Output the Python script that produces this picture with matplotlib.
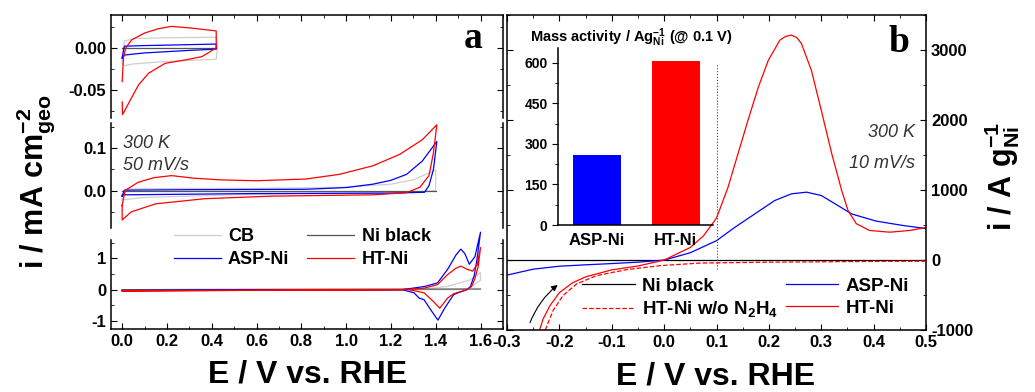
import matplotlib.pyplot as plt
from matplotlib.ticker import MultipleLocator, FormatStrFormatter

# ---- panel a : CVs, three stacked potential windows ----
# top window (0 - 0.42 V), mA cm-2
cb_top_E = [0.0, 0.01, 0.05, 0.20, 0.42, 0.425, 0.42, 0.20, 0.05, 0.01, 0.0, 0.0]
cb_top_i = [-0.010, 0.008, 0.011, 0.012, 0.0125, 0.0, -0.0135, -0.016, -0.019, -0.021, -0.019, -0.010]
ni_top_E = [0.0, 0.42]
ni_top_i = [0.0, 0.0]
asp_top_E = [0.0, 0.01, 0.10, 0.25, 0.42, 0.42, 0.30, 0.10, 0.01, 0.0, 0.0]
asp_top_i = [-0.012, 0.002, 0.0027, 0.0035, 0.0045, -0.0015, -0.003, -0.006, -0.0085, -0.012, -0.012]
ht_top_E = [0.0, 0.006, 0.016, 0.043, 0.10, 0.16, 0.22, 0.31, 0.42, 0.42, 0.357, 0.282,
            0.192, 0.118, 0.073, 0.036, 0.002, 0.0]
ht_top_i = [-0.040, -0.012, 0.0, 0.0095, 0.0175, 0.0225, 0.0254, 0.0234, 0.020, 0.0, -0.0103,
            -0.0143, -0.0183, -0.030, -0.044, -0.062, -0.079, -0.064]

# middle window (0 - 1.4 V)
cb_mid_E = [0.0, 0.02, 0.30, 0.60, 1.00, 1.20, 1.30, 1.40, 1.40, 1.30, 1.00, 0.50, 0.10, 0.0, 0.0]
cb_mid_i = [-0.020, 0.004, 0.005, 0.005, 0.008, 0.015, 0.025, 0.048, 0.0, -0.004, -0.006,
            -0.010, -0.016, -0.022, -0.020]
ni_mid_E = [0.0, 1.40]
ni_mid_i = [0.0, 0.0]
asp_mid_E = [0.0, 0.01, 0.30, 0.82, 1.00, 1.12, 1.20, 1.27, 1.34, 1.405, 1.39, 1.37, 1.35,
             1.20, 0.60, 0.0, 0.0]
asp_mid_i = [-0.013, 0.001, 0.002, 0.003, 0.007, 0.015, 0.024, 0.038, 0.069, 0.115, 0.050,
             0.0115, -0.004, -0.006, -0.007, -0.010, -0.013]
ht_mid_E = [0.0, 0.013, 0.07, 0.14, 0.22, 0.32, 0.44, 0.60, 0.82, 0.97, 1.12, 1.24, 1.34, 1.405,
            1.39, 1.37, 1.33, 1.27, 1.12, 0.67, 0.37, 0.15, 0.04, 0.0, 0.0]
ht_mid_i = [-0.035, 0.0, 0.019, 0.030, 0.035, 0.029, 0.025, 0.023, 0.027, 0.038, 0.058, 0.085,
            0.119, 0.154, 0.089, 0.035, 0.008, -0.005, -0.010, -0.013, -0.019, -0.031, -0.050,
            -0.069, -0.035]

# bottom window (0 - 1.6 V)
cb_bot_E = [0.0, 1.35, 1.45, 1.50, 1.55, 1.60, 1.60, 1.55, 1.50, 0.0]
cb_bot_i = [0.0, 0.02, 0.10, 0.20, 0.30, 0.54, 0.30, 0.05, 0.0, -0.02]
ni_bot_E = [0.0, 1.60]
ni_bot_i = [0.0, 0.02]
asp_bot_E = [0.0, 1.25, 1.30, 1.35, 1.408, 1.453, 1.49, 1.512, 1.53, 1.55, 1.575, 1.60,
             1.585, 1.572, 1.555, 1.54, 1.50, 1.48, 1.44, 1.41, 1.378, 1.348, 1.326, 1.303, 1.25, 0.0]
asp_bot_i = [-0.03, 0.0, 0.05, 0.10, 0.215, 0.645, 1.10, 1.29, 1.15, 0.81, 1.05, 1.83,
             1.0, 0.45, 0.10, 0.0, -0.10, -0.16, -0.59, -0.97, -0.645, -0.32, -0.27, -0.10, 0.0, -0.03]
ht_bot_E = [0.0, 1.25, 1.35, 1.408, 1.453, 1.49, 1.512, 1.54, 1.565, 1.585, 1.60,
            1.59, 1.575, 1.56, 1.54, 1.48, 1.453, 1.418, 1.39, 1.348, 1.28, 0.0]
ht_bot_i = [-0.04, 0.0, 0.05, 0.16, 0.48, 0.68, 0.75, 0.65, 0.59, 0.80, 1.34,
            0.75, 0.35, 0.10, 0.0, -0.13, -0.27, -0.59, -0.38, -0.10, 0.0, -0.04]

# ---- panel b : LSV, A g-1 (Ni) ----
nib_E = [-0.3, 0.5]
nib_i = [0, 0]
aspb_E = [-0.30, -0.25, -0.20, -0.15, -0.10, -0.05, 0.0, 0.05, 0.10, 0.135, 0.173, 0.211, 0.243,
          0.272, 0.300, 0.332, 0.358, 0.405, 0.456, 0.50]
aspb_i = [-215, -130, -88, -68, -50, -30, 0, 105, 277, 468, 659, 850, 946,
          970, 922, 778, 659, 556, 494, 450]
htb_E = [-0.238, -0.231, -0.218, -0.20, -0.175, -0.15, -0.10, -0.05, 0.0, 0.05, 0.075, 0.10,
         0.122, 0.141, 0.160, 0.180, 0.199, 0.221, 0.232, 0.243, 0.253, 0.262, 0.281, 0.300,
         0.320, 0.339, 0.351, 0.367, 0.392, 0.431, 0.469, 0.50]
htb_i = [-1000, -840, -650, -465, -325, -240, -140, -85, 0, 180, 345, 600,
         1041, 1519, 1996, 2474, 2856, 3142, 3195, 3214, 3180, 3095, 2713, 2140,
         1519, 993, 709, 519, 423, 398, 423, 465]
htn_E = [-0.227, -0.212, -0.193, -0.167, -0.129, -0.072, -0.008, 0.068, 0.2, 0.35, 0.5]
htn_i = [-1000, -719, -506, -340, -222, -137, -80, -43, -30, -22, -15]

# inset: mass activity at 0.1 V
cats = ['ASP-Ni', 'HT-Ni']
mass_act = [258, 607]
E_MA = 0.1

plt.rcParams['font.family'] = ['Liberation Sans', 'DejaVu Sans']
plt.rcParams['font.weight'] = 'bold'
plt.rcParams['mathtext.fontset'] = 'custom'
plt.rcParams['mathtext.rm'] = 'Liberation Sans:bold'
plt.rcParams['mathtext.bf'] = 'Liberation Sans:bold'
plt.rcParams['mathtext.it'] = 'Liberation Sans:italic:bold'
plt.rcParams['mathtext.default'] = 'bf'
plt.rcParams['axes.unicode_minus'] = False
plt.rcParams['axes.linewidth'] = 1.1
plt.rcParams['xtick.direction'] = 'in'
plt.rcParams['ytick.direction'] = 'in'
plt.rcParams['xtick.major.size'] = 4
plt.rcParams['ytick.major.size'] = 4
plt.rcParams['xtick.minor.size'] = 2.3
plt.rcParams['ytick.minor.size'] = 2.3
plt.rcParams['xtick.labelsize'] = 12
plt.rcParams['ytick.labelsize'] = 12
plt.rcParams['lines.solid_joinstyle'] = 'round'

c_cb, c_ni, c_asp, c_ht = '#cfcfcf', '#555555', '#0000ff', '#ff0000'
lw = 0.9

fig = plt.figure(figsize=(10.35, 3.92), dpi=100)

ax_top = fig.add_axes([0.1072, 0.699, 0.3787, 0.263])
ax_mid = fig.add_axes([0.1072, 0.418, 0.3787, 0.268])
ax_bot = fig.add_axes([0.1072, 0.161, 0.3787, 0.227])

ax_top.plot(cb_top_E, cb_top_i, color=c_cb, lw=lw)
ax_top.plot(ni_top_E, ni_top_i, color=c_ni, lw=lw)
ax_top.plot(asp_top_E, asp_top_i, color=c_asp, lw=lw)
ax_top.plot(ht_top_E, ht_top_i, color=c_ht, lw=lw)

ax_mid.plot(cb_mid_E, cb_mid_i, color=c_cb, lw=lw)
ax_mid.plot(ni_mid_E, ni_mid_i, color=c_ni, lw=lw)
ax_mid.plot(asp_mid_E, asp_mid_i, color=c_asp, lw=lw)
ax_mid.plot(ht_mid_E, ht_mid_i, color=c_ht, lw=lw)

l_cb, = ax_bot.plot(cb_bot_E, cb_bot_i, color=c_cb, lw=lw, label='CB')
l_ni, = ax_bot.plot(ni_bot_E, ni_bot_i, color=c_ni, lw=lw, label='Ni black')
l_asp, = ax_bot.plot(asp_bot_E, asp_bot_i, color=c_asp, lw=lw, label='ASP-Ni', clip_on=False)
l_ht, = ax_bot.plot(ht_bot_E, ht_bot_i, color=c_ht, lw=lw, label='HT-Ni', clip_on=False)

ax_top.set_ylim(-0.083, 0.039)
ax_mid.set_ylim(-0.088, 0.158)
ax_bot.set_ylim(-1.25, 1.585)
for ax in (ax_top, ax_mid, ax_bot):
    ax.set_xlim(-0.05, 1.70)
    ax.xaxis.set_major_locator(MultipleLocator(0.2))
    ax.xaxis.set_minor_locator(MultipleLocator(0.1))
    ax.tick_params(axis='y', which='both', left=True, right=True)
ax_top.yaxis.set_major_locator(MultipleLocator(0.05))
ax_top.yaxis.set_minor_locator(MultipleLocator(0.025))
ax_top.yaxis.set_major_formatter(FormatStrFormatter('%.2f'))
ax_mid.yaxis.set_major_locator(MultipleLocator(0.1))
ax_mid.yaxis.set_minor_locator(MultipleLocator(0.05))
ax_mid.yaxis.set_major_formatter(FormatStrFormatter('%.1f'))
ax_bot.yaxis.set_major_locator(MultipleLocator(1))
ax_bot.yaxis.set_minor_locator(MultipleLocator(0.5))
ax_bot.yaxis.set_major_formatter(FormatStrFormatter('%d'))
ax_bot.xaxis.set_major_formatter(FormatStrFormatter('%.1f'))

ax_top.tick_params(axis='x', which='both', bottom=False, top=True, labelbottom=False)
ax_top.spines['bottom'].set_visible(False)
ax_mid.tick_params(axis='x', which='both', bottom=False, top=False, labelbottom=False)
ax_mid.spines['top'].set_visible(False)
ax_mid.spines['bottom'].set_visible(False)
ax_bot.spines['top'].set_visible(False)
ax_bot.tick_params(axis='x', which='both', bottom=True, top=False)

fig.legend(handles=[l_cb, l_asp, l_ni, l_ht], ncol=2, loc='center',
           bbox_to_anchor=(0.292, 0.367), frameon=False, fontsize=13,
           handlelength=2.6, labelspacing=0.3, columnspacing=1.0, handletextpad=0.4)

fig.text(0.119, 0.622, '300 K', fontsize=13, style='italic', weight='normal', color='#333333')
fig.text(0.119, 0.566, '50 mV/s', fontsize=13, style='italic', weight='normal', color='#333333')
fig.text(0.457, 0.878, 'a', fontsize=27, family='Liberation Serif', weight='bold', ha='center')

# ---- panel b ----
ax_b = fig.add_axes([0.4899, 0.158, 0.4048, 0.8036])
l_nib, = ax_b.plot(nib_E, nib_i, color='black', lw=lw, label='Ni black')
l_aspb, = ax_b.plot(aspb_E, aspb_i, color=c_asp, lw=lw, label='ASP-Ni')
l_htn, = ax_b.plot(htn_E, htn_i, color=c_ht, lw=lw, ls='--', label='HT-Ni w/o N$_2$H$_4$')
l_htb, = ax_b.plot(htb_E, htb_i, color=c_ht, lw=lw, label='HT-Ni')
ax_b.vlines(E_MA, -130, 2800, colors='#444444', linestyles=':', lw=0.8)
ax_b.set_xlim(-0.3, 0.5)
ax_b.set_ylim(-1000, 3500)
ax_b.xaxis.set_major_locator(MultipleLocator(0.1))
ax_b.xaxis.set_minor_locator(MultipleLocator(0.05))
ax_b.xaxis.set_major_formatter(FormatStrFormatter('%.1f'))
ax_b.yaxis.set_major_locator(MultipleLocator(1000))
ax_b.yaxis.set_minor_locator(MultipleLocator(500))
ax_b.tick_params(axis='x', which='both', top=True)
ax_b.tick_params(axis='y', which='both', left=True, right=True, labelleft=False, labelright=True)
ax_b.annotate('', xy=(-0.199, -330), xytext=(-0.258, -932),
              arrowprops=dict(arrowstyle='-|>', color='black', lw=0.8,
                              connectionstyle='arc3,rad=-0.15', mutation_scale=9))
ax_b.legend(handles=[l_nib, l_htn, l_aspb, l_htb], ncol=2, loc='center',
            bbox_to_anchor=(0.57, 0.10), frameon=False, fontsize=13.5,
            handlelength=2.8, labelspacing=0.25, columnspacing=0.4, handletextpad=0.4)
fig.text(0.884, 0.651, '300 K', fontsize=13, style='italic', weight='normal',
         color='#333333', ha='right')
fig.text(0.884, 0.571, '10 mV/s', fontsize=13, style='italic', weight='normal',
         color='#333333', ha='right')
fig.text(0.869, 0.867, 'b', fontsize=27, family='Liberation Serif', weight='bold', ha='center')

# inset bar chart
ax_in = fig.add_axes([0.5391, 0.426, 0.1498, 0.4515], facecolor='none')
ax_in.bar(range(len(cats)), mass_act, width=0.61, color=[c_asp, c_ht])
ax_in.set_xlim(-0.49, 1.47)
ax_in.set_ylim(0, 654)
ax_in.set_xticks(range(len(cats)))
ax_in.set_xticklabels(cats, fontsize=12)
ax_in.yaxis.set_major_locator(MultipleLocator(150))
ax_in.yaxis.set_minor_locator(MultipleLocator(75))
ax_in.tick_params(axis='y', which='both', direction='out', labelsize=10)
ax_in.tick_params(axis='x', length=0, pad=6)
ax_in.spines['top'].set_visible(False)
ax_in.spines['right'].set_visible(False)
fig.text(0.512, 0.905, 'Mass activity / Ag$^{-1}_{Ni}$ (@ 0.1 V)', fontsize=10.5, va='center')

# axis labels
fig.text(0.297, 0.045, 'E / V vs. RHE', fontsize=23, ha='center', va='center')
fig.text(0.691, 0.04, 'E / V vs. RHE', fontsize=23, ha='center', va='center')
fig.text(0.034, 0.536, 'i / mA cm$_{geo}^{-2}$', fontsize=22, rotation=90, ha='center', va='center')
fig.text(0.968, 0.55, 'i / A g$_{Ni}^{-1}$', fontsize=22, rotation=90, ha='center', va='center')

fig.savefig('out.png', dpi=100)
